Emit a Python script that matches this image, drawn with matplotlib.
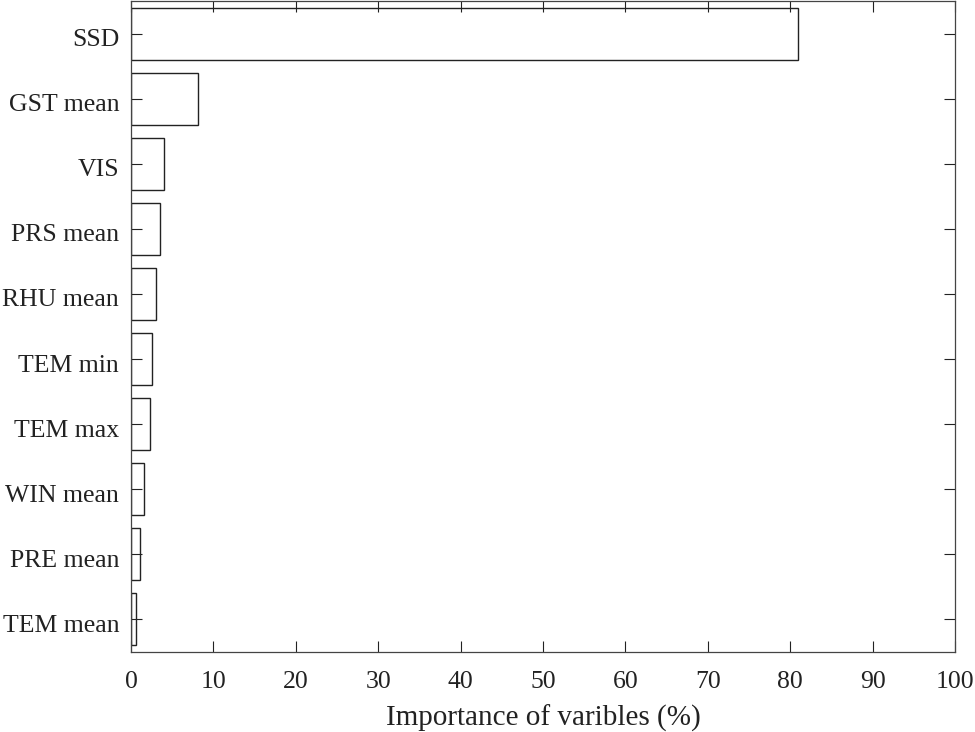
import numpy as np
import matplotlib
matplotlib.use('Agg')
import matplotlib.pyplot as plt
import matplotlib.transforms as mtransforms

plt.rcParams['font.family'] = ['Liberation Serif', 'DejaVu Serif']
plt.rcParams['mathtext.fontset'] = 'stix'

# Importance of each variable (%), top to bottom
variables = ['SSD', 'GST mean', 'VIS', 'PRS mean', 'RHU mean',
             'TEM min', 'TEM max', 'WIN mean', 'PRE mean', 'TEM mean']
importance = [81.0, 8.1, 4.0, 3.55, 3.0, 2.55, 2.25, 1.55, 1.05, 0.55]

x_ticks = list(range(0, 101, 10))

fig = plt.figure(figsize=(9.75, 7.32), dpi=100)
ax = fig.add_axes([131 / 975, 1 - 652 / 732, 824 / 975, 651 / 732])

pos = np.arange(len(variables))
ax.barh(pos, importance, height=0.8, color='white', edgecolor='#222222', linewidth=1.0)

ax.set_xlim(0, 100)
ax.set_ylim(len(variables) - 0.5, -0.5)
ax.set_xticks(x_ticks)
ax.set_yticks(pos)
ax.set_yticklabels(variables)

ax.tick_params(axis='both', which='both', direction='in', length=8, width=0.8,
               top=True, right=True, labelsize=18.5, colors='#222222')
ax.tick_params(axis='x', pad=14)
ax.tick_params(axis='y', pad=8.5)
# labels sit a little below the tick in the original
shift = mtransforms.ScaledTranslation(0, -4 / 100, fig.dpi_scale_trans)
for lbl in ax.get_yticklabels():
    lbl.set_transform(lbl.get_transform() + shift)
for s in ax.spines.values():
    s.set_linewidth(0.9)
    s.set_color('#444444')

ax.set_xlabel('Importance of varibles (%)', fontsize=21, color='#222222', labelpad=8)

fig.savefig('out.png', dpi=100)
